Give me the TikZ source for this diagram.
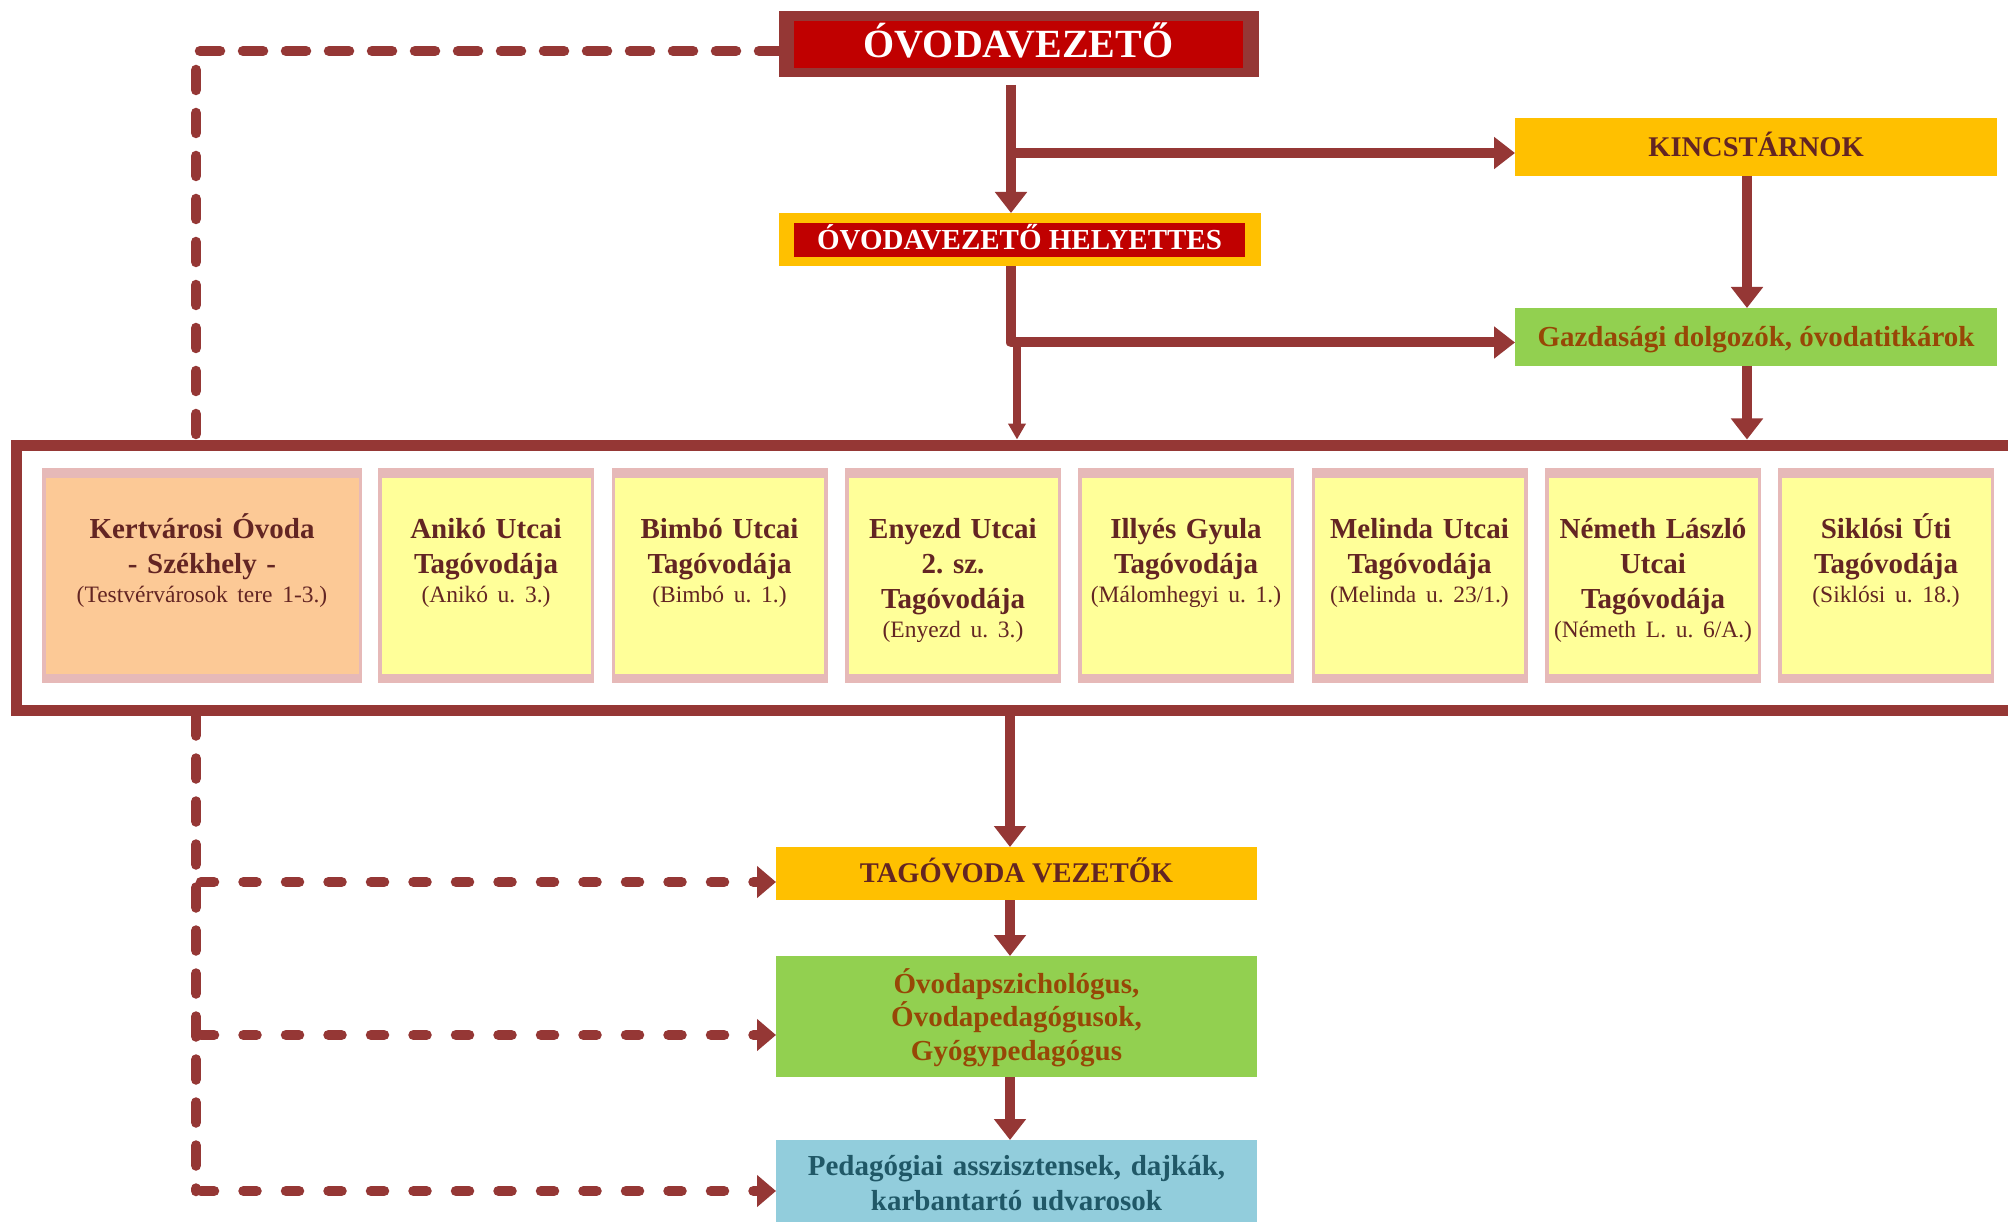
\documentclass[tikz,border=0pt]{standalone}
\usepackage{fontspec}
\setmainfont{Liberation Serif}
\usetikzlibrary{arrows.meta,calc}
\frenchspacing
\definecolor{linec}{HTML}{953735}
\definecolor{redc}{HTML}{C00000}
\definecolor{orangec}{HTML}{FFC000}
\definecolor{greenc}{HTML}{92D050}
\definecolor{bluec}{HTML}{92CDDC}
\definecolor{pinkc}{HTML}{E6B9B8}
\definecolor{yellowc}{HTML}{FFFF99}
\definecolor{peachc}{HTML}{FCC996}
\definecolor{txtred}{HTML}{632523}
\definecolor{txtbrown}{HTML}{974706}
\definecolor{txtblue}{HTML}{205867}
\newcommand\addrtxt[1]{{\fontsize{23.5}{29}\selectfont\mdseries #1}}
\begin{document}
\begin{tikzpicture}[x=1pt,y=-1pt,
  box/.style={inner sep=0pt, outer sep=0pt, anchor=north west},
  onel/.style={font=\fontsize{#1}{34}\selectfont\bfseries, text height=0.662*#1 pt, text depth=0pt},
  pinkb/.style={box, fill=pinkc, minimum height=215pt},
  innb/.style={box, minimum height=196pt},
  schtxt/.style={anchor=north, inner sep=0pt, text width=205pt, align=center, text=txtred,
    font=\fontsize{29}{35}\selectfont\bfseries},
  arr/.style={draw=linec, line width=10pt, line join=round, -{Triangle[width=31pt,length=21pt]}},
  arrsmall/.style={draw=linec, line width=8.5pt, -{Triangle[width=17pt,length=16pt]}},
  dashA/.style={draw=linec, line width=10.5pt, line cap=round, line join=round, dash pattern=on 20pt off 23pt},
  dashB/.style={draw=linec, line width=10.5pt, line cap=round, dash pattern=on 13pt off 29.5pt, dash phase=37.5pt,
    -{Triangle[width=31pt,length=19pt]}}
]
\useasboundingbox (0,0) rectangle (2008,1222);
\clip (0,0) rectangle (2008,1222);
\fill[white] (0,0) rectangle (2008,1222);

% top boxes
\node[box, fill=linec, minimum width=480pt, minimum height=66pt] (vezO) at (779,11) {};
\node[box, fill=redc, minimum width=449pt, minimum height=47pt, text=white, onel=40] (vez) at (794,21) {ÓVODAVEZETŐ};
\node[box, fill=orangec, minimum width=482pt, minimum height=53pt] (helyO) at (779,213) {};
\node[box, fill=redc, minimum width=451pt, minimum height=34pt, text=white, onel=29] (hely) at (794,223) {ÓVODAVEZETŐ HELYETTES};
\node[box, fill=orangec, minimum width=482pt, minimum height=58pt, text=txtred, onel=28.5] (kincs) at (1515,118) {KINCSTÁRNOK};
\node[box, fill=greenc, minimum width=482pt, minimum height=58pt, text=txtbrown, onel=29] (gazd) at (1515,308) {Gazdasági dolgozók, óvodatitkárok};

% frame
\node[draw=linec, line width=11pt, minimum width=2014pt, minimum height=265pt, inner sep=0pt, outer sep=5.5pt, anchor=north west] (frame) at (10.5,439.5) {};

% member kindergartens
\node[pinkb, minimum width=320pt] (kertO) at (42,468) {};
\node[innb, fill=peachc, minimum width=313pt] (kert) at (45.5,478) {};
\node[schtxt, text width=310pt] (kertT) at (202,510) {\rule{0pt}{28pt}Kertvárosi Óvoda\\- Székhely -\\[-6pt]\addrtxt{(Testvérvárosok tere 1-3.)}};

\node[pinkb, minimum width=216pt] (anikoO) at (378,468) {};
\node[innb, fill=yellowc, minimum width=209pt] (aniko) at (381.5,478) {};
\node[schtxt] (anikoT) at (486,510) {\rule{0pt}{28pt}Anikó Utcai\\Tagóvodája\\[-6pt]\addrtxt{(Anikó u. 3.)}};

\node[pinkb, minimum width=216pt] (bimboO) at (611.5,468) {};
\node[innb, fill=yellowc, minimum width=209pt] (bimbo) at (615,478) {};
\node[schtxt] (bimboT) at (719.5,510) {\rule{0pt}{28pt}Bimbó Utcai\\Tagóvodája\\[-6pt]\addrtxt{(Bimbó u. 1.)}};

\node[pinkb, minimum width=216pt] (enyezdO) at (845,468) {};
\node[innb, fill=yellowc, minimum width=209pt] (enyezd) at (848.5,478) {};
\node[schtxt] (enyezdT) at (953,510) {\rule{0pt}{28pt}Enyezd Utcai\\2. sz.\\Tagóvodája\\[-6pt]\addrtxt{(Enyezd u. 3.)}};

\node[pinkb, minimum width=216pt] (illyesO) at (1078,468) {};
\node[innb, fill=yellowc, minimum width=209pt] (illyes) at (1081.5,478) {};
\node[schtxt] (illyesT) at (1186,510) {\rule{0pt}{28pt}Illyés Gyula\\Tagóvodája\\[-6pt]\addrtxt{(Málomhegyi u. 1.)}};

\node[pinkb, minimum width=216pt] (melindaO) at (1311.5,468) {};
\node[innb, fill=yellowc, minimum width=209pt] (melinda) at (1315,478) {};
\node[schtxt] (melindaT) at (1419.5,510) {\rule{0pt}{28pt}Melinda Utcai\\Tagóvodája\\[-6pt]\addrtxt{(Melinda u. 23/1.)}};

\node[pinkb, minimum width=216pt] (nemethO) at (1545,468) {};
\node[innb, fill=yellowc, minimum width=209pt] (nemeth) at (1548.5,478) {};
\node[schtxt] (nemethT) at (1653,510) {\rule{0pt}{28pt}Németh László\\Utcai\\Tagóvodája\\[-6pt]\addrtxt{(Németh L. u. 6/A.)}};

\node[pinkb, minimum width=216pt] (siklosO) at (1778,468) {};
\node[innb, fill=yellowc, minimum width=209pt] (siklos) at (1781.5,478) {};
\node[schtxt] (siklosT) at (1886,510) {\rule{0pt}{28pt}Siklósi Úti\\Tagóvodája\\[-6pt]\addrtxt{(Siklósi u. 18.)}};

% lower boxes
\node[box, fill=orangec, minimum width=481pt, minimum height=53pt, text=txtred, onel=28.5] (tag) at (776,847) {TAGÓVODA VEZETŐK};
\node[box, fill=greenc, minimum width=481pt, minimum height=121pt] (ped) at (776,956) {};
\node[anchor=north, inner sep=0pt, text width=470pt, align=center, text=txtbrown, font=\fontsize{29}{33.5}\selectfont\bfseries] (pedT) at (1016.5,965) {\rule{0pt}{28pt}Óvodapszichológus,\\Óvodapedagógusok,\\Gyógypedagógus};
\node[box, fill=bluec, minimum width=481pt, minimum height=84pt] (asst) at (776,1140) {};
\node[anchor=north, inner sep=0pt, text width=470pt, align=center, text=txtblue, font=\fontsize{29}{35}\selectfont\bfseries] (asstT) at (1016.5,1147) {\rule{0pt}{28pt}Pedagógiai asszisztensek, dajkák,\\karbantartó udvarosok};

% solid connectors
\coordinate (t0) at ([xshift=-8pt,yshift=-8pt]vezO.south);
\draw[arr] (t0) -- (t0 |- helyO.north);
\coordinate (j1) at (1011,153);
\draw[arr] (j1) -- (j1 -| kincs.west);
\coordinate (h0) at (t0 |- helyO.south);
\coordinate (j2) at (1011,342.5);
\draw[arr] (h0) -- (j2) -- (j2 -| gazd.west);
\coordinate (j3) at (1017,342.5);
\draw[arrsmall] (j3) -- (j3 |- frame.north);
\coordinate (kx) at ([xshift=-9pt]kincs.south);
\draw[arr] (kx) -- (kx |- gazd.north);
\coordinate (gx) at ([xshift=-9pt]gazd.south);
\draw[arr] (gx) -- (gx |- frame.north);
\coordinate (tx) at ([xshift=-6.5pt]tag.north);
\draw[arr] (tx |- frame.south) -- (tx);
\draw[arr] (tx |- tag.south) -- (tx |- ped.north);
\draw[arr] (tx |- ped.south) -- (tx |- asst.north);

% dashed connectors
\coordinate (dT) at (196,51);
\draw[dashA] (dT -| vezO.west) -- (dT) -- (dT |- frame.north);
\coordinate (r1) at (196,882);
\coordinate (r2) at (196,1035);
\coordinate (r3) at (196,1191);
\draw[dashA] (r1 |- frame.south) -- (r3);
\draw[dashB] (r1) -- (r1 -| tag.west);
\draw[dashB] (r2) -- (r2 -| ped.west);
\draw[dashB] (r3) -- (r3 -| asst.west);
\end{tikzpicture}
\end{document}
